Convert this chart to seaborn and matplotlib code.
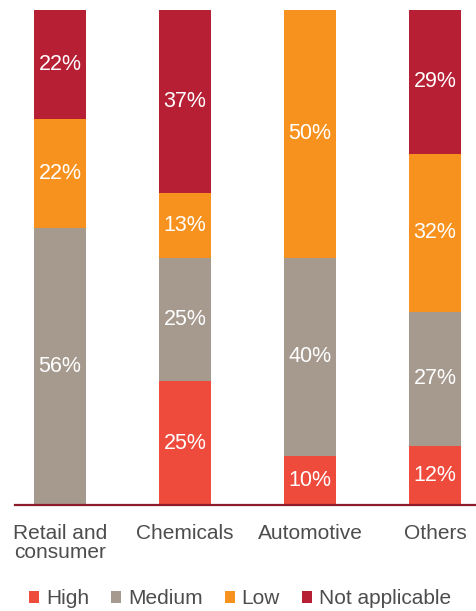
import matplotlib
matplotlib.use("Agg")
import matplotlib.pyplot as plt
import seaborn as sns
import numpy as np
from matplotlib.patches import Patch

# Shares by industry, stacked bottom to top
categories = ["Retail and\nconsumer", "Chemicals", "Automotive", "Others"]
levels = ["High", "Medium", "Low", "Not applicable"]
high = [0, 25, 10, 12]
medium = [56, 25, 40, 27]
low = [22, 13, 50, 32]
not_applicable = [22, 37, 0, 29]

colors = ["#EE4B3D", "#A69A8F", "#F7921F", "#B71F34"]
text_color = "#4D4D4D"

sns.set_theme(style="white")
plt.rcParams["font.family"] = ["Liberation Sans", "DejaVu Sans"]

series = [high, medium, low, not_applicable]
cum = np.cumsum(np.array(series, dtype=float), axis=0)

fig = plt.figure(figsize=(4.76, 6.11), dpi=100)
ax = fig.add_axes([15 / 476, 106 / 611, 461 / 476, 495 / 611])

# Paint cumulative totals from the top segment down so each layer shows
for k in reversed(range(len(levels))):
    sns.barplot(x=list(range(len(categories))), y=cum[k], color=colors[k],
                width=0.416, saturation=1, linewidth=0, errorbar=None, ax=ax)

# Value labels in each segment
for k, vals in enumerate(series):
    for i, v in enumerate(vals):
        if v <= 0:
            continue
        bottom = cum[k][i] - v
        ax.text(i, bottom + v / 2, f"{v}%", ha="center", va="center",
                color="white", fontsize=15.5)

ax.set_xlim(-0.36, 3.328)
ax.set_ylim(0, 100)
ax.set_yticks([])
ax.set_xlabel("")
ax.set_ylabel("")
ax.set_xticks(range(len(categories)))
ax.set_xticklabels(categories, fontsize=15, color=text_color, linespacing=1.0)
ax.tick_params(axis="x", length=0, pad=14)
for side in ["top", "left", "right"]:
    ax.spines[side].set_visible(False)
ax.spines["bottom"].set_color("#8B1A2B")
ax.spines["bottom"].set_linewidth(1.6)

handles = [Patch(facecolor=c, edgecolor="none", label=l) for c, l in zip(colors, levels)]
fig.legend(handles=handles, loc="center", bbox_to_anchor=(240 / 476, 12 / 611),
           ncol=4, frameon=False, fontsize=15, handlelength=0.48, handleheight=0.48,
           handletextpad=0.33, columnspacing=1.05, labelcolor=text_color,
           borderpad=0, borderaxespad=0)

fig.savefig("out.png", dpi=100)
